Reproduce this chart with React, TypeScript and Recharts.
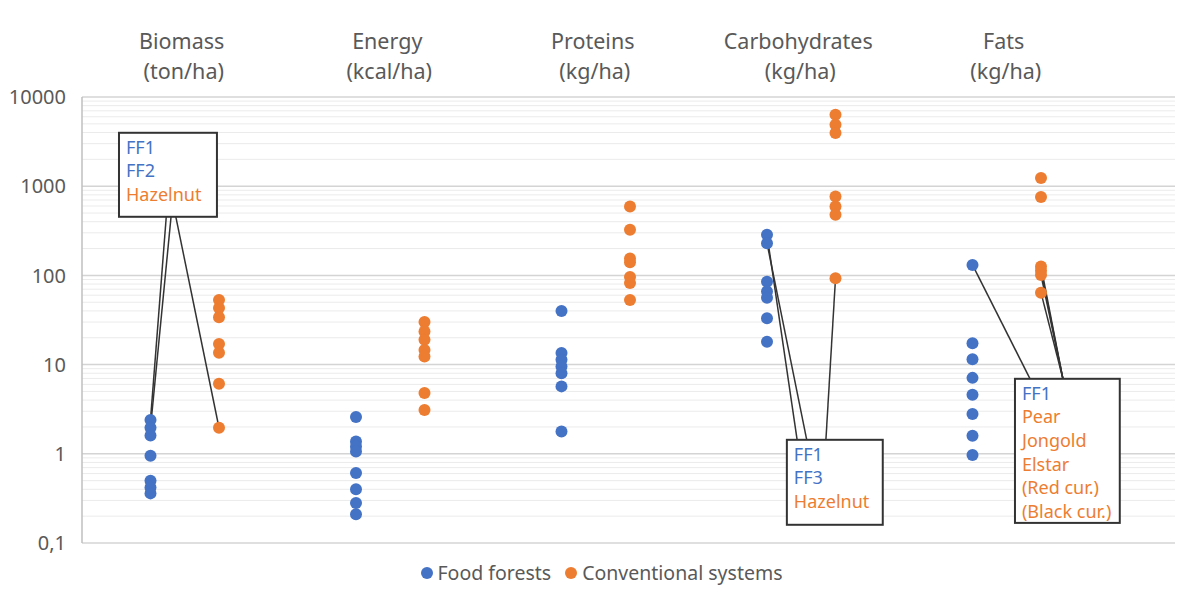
import React from "react"
import {
  ScatterChart,
  Scatter,
  XAxis,
  YAxis,
  CartesianGrid,
  ReferenceLine,
  ReferenceArea,
  ReferenceDot,
} from "recharts"

const categories = ["Biomass", "Energy", "Proteins", "Carbohydrates", "Fats"]
const units = ["(ton/ha)", "(kcal/ha)", "(kg/ha)", "(kg/ha)", "(kg/ha)"]
const yTicks = [0.1, 1, 10, 100, 1000, 10000]
const seriesNames = ["Food forests", "Conventional systems"]

// values per category
const foodForests = [
  [2.4, 1.96, 1.6, 0.95, 0.5, 0.42, 0.36],
  [2.58, 1.37, 1.21, 1.06, 0.61, 0.4, 0.28, 0.21],
  [40, 13.5, 11.3, 9.5, 8.0, 5.7, 1.78],
  [285, 230, 85, 66, 56, 33, 18],
  [131, 17.4, 11.5, 7.1, 4.6, 2.8, 1.59, 0.97],
]
const conventional = [
  [53, 43, 34, 17, 13.6, 6.1, 1.96],
  [30, 23.5, 19, 14.6, 12.3, 4.8, 3.1],
  [592, 325, 155, 140, 96, 82, 53],
  [6310, 4880, 3940, 767, 592, 478, 93],
  [1233, 755, 126, 113, 101, 64],
]

const BLUE = "#4472C4"
const ORANGE = "#ED7D31"
const GREY = "#595959"
const FONT = "'Noto Sans', sans-serif"

const toPoints = (groups: number[][], offset: number) =>
  groups.flatMap((vals, c) => vals.map((v) => ({ x: c * 3 + offset, y: v })))

const ffPoints = toPoints(foodForests, 1)
const convPoints = toPoints(conventional, 2)

const minorTicks = yTicks.slice(0, -1).flatMap((d) => [2, 3, 4, 5, 6, 7, 8, 9].map((m) => +(d * m).toPrecision(3)))

// annotation boxes (data coordinates) and the text in them
const boxes = [
  { x1: 0.54, x2: 1.97, y1: 454, y2: 3970, lines: [["FF1", BLUE], ["FF2", BLUE], ["Hazelnut", ORANGE]] },
  { x1: 10.29, x2: 11.69, y1: 0.16, y2: 1.435, lines: [["FF1", BLUE], ["FF3", BLUE], ["Hazelnut", ORANGE]] },
  {
    x1: 13.62,
    x2: 15.15,
    y1: 0.168,
    y2: 6.93,
    lines: [
      ["FF1", BLUE],
      ["Pear", ORANGE],
      ["Jongold", ORANGE],
      ["Elstar", ORANGE],
      ["(Red cur.)", ORANGE],
      ["(Black cur.)", ORANGE],
    ],
  },
]

const leaders = [
  { from: { x: 1.23, y: 454 }, to: { x: 1, y: foodForests[0][0] } },
  { from: { x: 1.3, y: 454 }, to: { x: 1, y: foodForests[0][1] } },
  { from: { x: 1.37, y: 454 }, to: { x: 2, y: conventional[0][6] } },
  { from: { x: 10.44, y: 1.435 }, to: { x: 10, y: foodForests[3][0] } },
  { from: { x: 10.58, y: 1.435 }, to: { x: 10, y: foodForests[3][1] } },
  { from: { x: 10.86, y: 1.435 }, to: { x: 11, y: conventional[3][6] } },
  { from: { x: 13.84, y: 6.93 }, to: { x: 13, y: foodForests[4][0] } },
  { from: { x: 14.32, y: 6.93 }, to: { x: 14, y: conventional[4][2] } },
  { from: { x: 14.32, y: 6.93 }, to: { x: 14, y: conventional[4][3] } },
  { from: { x: 14.32, y: 6.93 }, to: { x: 14, y: conventional[4][4] } },
  { from: { x: 14.32, y: 6.93 }, to: { x: 14, y: conventional[4][5] } },
]

const headerShape = (i: number) => (p: any) => (
  <g>
    <text x={p.cx - 3} y={p.cy - 48} textAnchor="middle" fill={GREY} fontSize={21.5} fontFamily={FONT}>
      {categories[i]}
    </text>
    <text x={p.cx - 1} y={p.cy - 18} textAnchor="middle" fill={GREY} fontSize={21.5} fontFamily={FONT}>
      {units[i]}
    </text>
  </g>
)

// thin line drawn at the bottom edge of a (nearly zero height) area
const minorLine = (p: any) => (
  <line x1={p.x} x2={p.x + p.width} y1={p.y + p.height} y2={p.y + p.height} stroke="#ebebeb" strokeWidth={1} />
)

const boxShape = (lines: string[][]) => (props: any) => {
  const { x, y, width, height } = props
  return (
    <g>
      <rect x={x} y={y} width={width} height={height} fill="#fff" stroke="#333" strokeWidth={2} />
      {lines.map(([t, c], i) => (
        <text key={i} x={x + 7} y={y + 21 + i * 23.6} fill={c} fontSize={18} fontFamily={FONT}>
          {t}
        </text>
      ))}
    </g>
  )
}

export default function App() {
  return (
    <div style={{ position: "relative", width: 1183, height: 592, margin: "-8px 0 0 -8px", background: "#fff" }}>
      <ScatterChart width={1183} height={592} margin={{ top: 97, right: 5, bottom: 49, left: 10 }}>
        {minorTicks.map((v) => (
          <ReferenceArea key={"m" + v} y1={v} y2={v * 1.001} ifOverflow="visible" shape={minorLine} />
        ))}
        <CartesianGrid vertical={false} stroke="#d4d4d4" strokeWidth={1.5} />
        <XAxis type="number" dataKey="x" domain={[0, 16]} hide />
        <YAxis
          type="number"
          dataKey="y"
          scale="log"
          domain={[0.1, 10000]}
          ticks={yTicks}
          allowDataOverflow
          width={72}
          axisLine={{ stroke: "#bfbfbf", strokeWidth: 1.5 }}
          tickLine={false}
          tickMargin={10}
          tick={{ fill: GREY, fontSize: 20, fontFamily: FONT }}
          tickFormatter={(v: number) => String(v).replace(".", ",")}
        />
        {categories.map((c, i) => (
          <ReferenceDot key={c} x={i * 3 + 1.5} y={10000} r={0} ifOverflow="visible" shape={headerShape(i)} />
        ))}
        <Scatter name={seriesNames[0]} data={ffPoints} fill={BLUE} isAnimationActive={false} shape={(p: any) => <circle cx={p.cx} cy={p.cy} r={6} fill={BLUE} />} />
        <Scatter name={seriesNames[1]} data={convPoints} fill={ORANGE} isAnimationActive={false} shape={(p: any) => <circle cx={p.cx} cy={p.cy} r={6} fill={ORANGE} />} />
        {leaders.map((l, i) => (
          <ReferenceLine key={"l" + i} segment={[l.from, l.to]} stroke="#333" strokeWidth={1.5} ifOverflow="visible" />
        ))}
        {boxes.map((b, i) => (
          <ReferenceArea
            key={"b" + i}
            x1={b.x1}
            x2={b.x2}
            y1={b.y1}
            y2={b.y2}
            ifOverflow="visible"
            shape={boxShape(b.lines)}
          />
        ))}
      </ScatterChart>
      <div
        style={{
          position: "absolute",
          top: 560,
          left: 0,
          width: 1183,
          display: "flex",
          justifyContent: "center",
          gap: 14,
          fontFamily: FONT,
          fontSize: 19.5,
          color: GREY,
          lineHeight: "26px",
          paddingLeft: 10,
        }}
      >
        {seriesNames.map((n, i) => (
          <div key={n} style={{ display: "flex", alignItems: "center", gap: 5 }}>
            <span style={{ width: 12, height: 12, borderRadius: 6, background: i === 0 ? BLUE : ORANGE, display: "inline-block" }} />
            {n}
          </div>
        ))}
      </div>
    </div>
  )
}
